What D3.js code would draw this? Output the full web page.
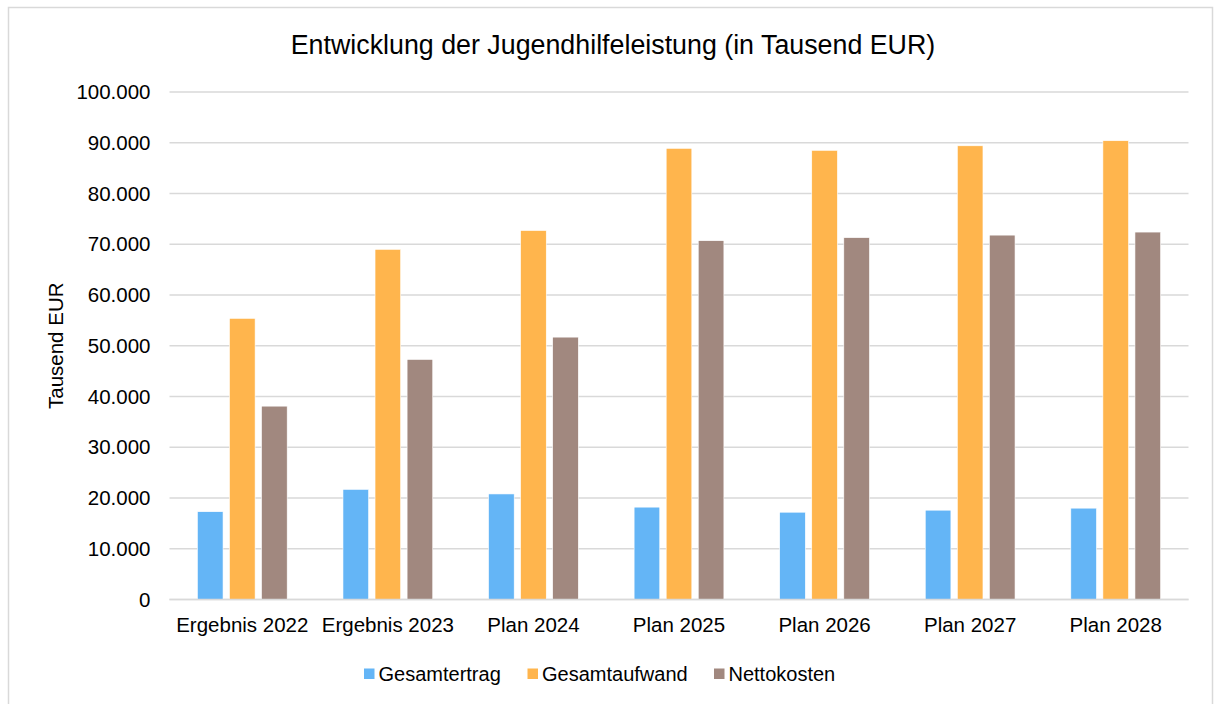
<!DOCTYPE html>
<html>
<head>
<meta charset="utf-8">
<script src="https://cdn.jsdelivr.net/npm/d3@7"></script>
<style>
  body { margin: 0; background: #fff; }
  text { font-family: "Liberation Sans", Arial, sans-serif; fill: #000; }
</style>
</head>
<body>
<script>
// data (Tausend EUR)
var categories = ["Ergebnis 2022", "Ergebnis 2023", "Plan 2024", "Plan 2025", "Plan 2026", "Plan 2027", "Plan 2028"];
var series = ["Gesamtertrag", "Gesamtaufwand", "Nettokosten"];
var gesamtertrag = [17300, 21700, 20800, 18200, 17200, 17600, 18000];
var gesamtaufwand = [55400, 69000, 72700, 88900, 88500, 89400, 90400];
var nettokosten = [38100, 47300, 51700, 70700, 71300, 71800, 72400];
var yTicks = [0, 10000, 20000, 30000, 40000, 50000, 60000, 70000, 80000, 90000, 100000];
var colors = ["#64B5F6", "#FFB54D", "#A1887F"];

var values = [gesamtertrag, gesamtaufwand, nettokosten];

var W = 1214, H = 704;
var margin = {left: 169.5, right: 25.5, top: 92, bottom: 104.5};

var de = d3.formatLocale({decimal: ",", thousands: ".", grouping: [3], currency: ["", " €"]});
var fmt = de.format(",.0f");

var svg = d3.select("body")
  .append("svg")
  .attr("width", W)
  .attr("height", H);

// chart border
svg.append("rect")
  .attr("x", 8.5).attr("y", 7.5)
  .attr("width", W - 10).attr("height", H + 10)
  .attr("fill", "#fff")
  .attr("stroke", "#d9d9d9")
  .attr("stroke-width", 1.5);

var x0 = d3.scaleBand()
  .domain(categories)
  .range([margin.left, W - margin.right])
  .padding(0);

var x1 = d3.scaleBand()
  .domain(series)
  .range([0, x0.bandwidth()])
  .paddingInner(0.2)
  .paddingOuter(0.87);

var y = d3.scaleLinear()
  .domain([0, 100000])
  .range([H - margin.bottom, margin.top]);

// gridlines
svg.append("g")
  .selectAll("line")
  .data(yTicks)
  .enter()
  .append("line")
  .attr("x1", margin.left)
  .attr("x2", W - margin.right)
  .attr("y1", d => y(d))
  .attr("y2", d => y(d))
  .attr("stroke", "#d9d9d9")
  .attr("stroke-width", 1.3);

// y axis labels
var yAxis = d3.axisLeft(y)
  .tickValues(yTicks)
  .tickFormat(fmt)
  .tickSize(0)
  .tickPadding(19);

svg.append("g")
  .attr("transform", "translate(" + margin.left + ",0)")
  .call(yAxis)
  .call(g => g.select(".domain").remove())
  .selectAll("text")
  .style("font-size", "20.5px")
  .style("font-family", "'Liberation Sans', Arial, sans-serif")
  .attr("fill", "#000");

// bars
var groups = svg.append("g")
  .selectAll("g")
  .data(categories)
  .enter()
  .append("g")
  .attr("transform", d => "translate(" + x0(d) + ",0)");

groups.selectAll("rect")
  .data((c, i) => series.map((s, j) => ({s: s, v: values[j][i], j: j})))
  .enter()
  .append("rect")
  .attr("x", d => x1(d.s))
  .attr("width", x1.bandwidth())
  .attr("y", d => y(d.v))
  .attr("height", d => y(0) - y(d.v))
  .attr("fill", d => colors[d.j])
  .attr("stroke", "#fff")
  .attr("stroke-width", 0.6);

// baseline
svg.append("line")
  .attr("x1", margin.left)
  .attr("x2", W - margin.right)
  .attr("y1", y(0))
  .attr("y2", y(0))
  .attr("stroke", "#d9d9d9")
  .attr("stroke-width", 1.5);

// x axis labels
var xAxis = d3.axisBottom(x0)
  .tickSize(0)
  .tickPadding(18);

svg.append("g")
  .attr("transform", "translate(0," + y(0) + ")")
  .call(xAxis)
  .call(g => g.select(".domain").remove())
  .selectAll("text")
  .style("font-size", "20.5px")
  .style("font-family", "'Liberation Sans', Arial, sans-serif")
  .attr("fill", "#000");

// title
svg.append("text")
  .attr("x", 613)
  .attr("y", 54)
  .attr("text-anchor", "middle")
  .style("font-size", "26.8px")
  .text("Entwicklung der Jugendhilfeleistung (in Tausend EUR)");

// y axis title
svg.append("text")
  .attr("transform", "translate(63," + (margin.top + (y(0) - margin.top) / 2) + ") rotate(-90)")
  .attr("text-anchor", "middle")
  .style("font-size", "20.5px")
  .text("Tausend EUR");

// legend
var legendX = [364, 527.5, 714];
var legend = svg.append("g")
  .selectAll("g")
  .data(series)
  .enter()
  .append("g")
  .attr("transform", (d, i) => "translate(" + legendX[i] + ",668.5)");

legend.append("rect")
  .attr("width", 10.5)
  .attr("height", 10.5)
  .attr("fill", (d, i) => colors[i]);

legend.append("text")
  .attr("x", 14.5)
  .attr("y", 5.5)
  .attr("dy", "0.35em")
  .style("font-size", "20px")
  .text(d => d);
</script>
</body>
</html>
